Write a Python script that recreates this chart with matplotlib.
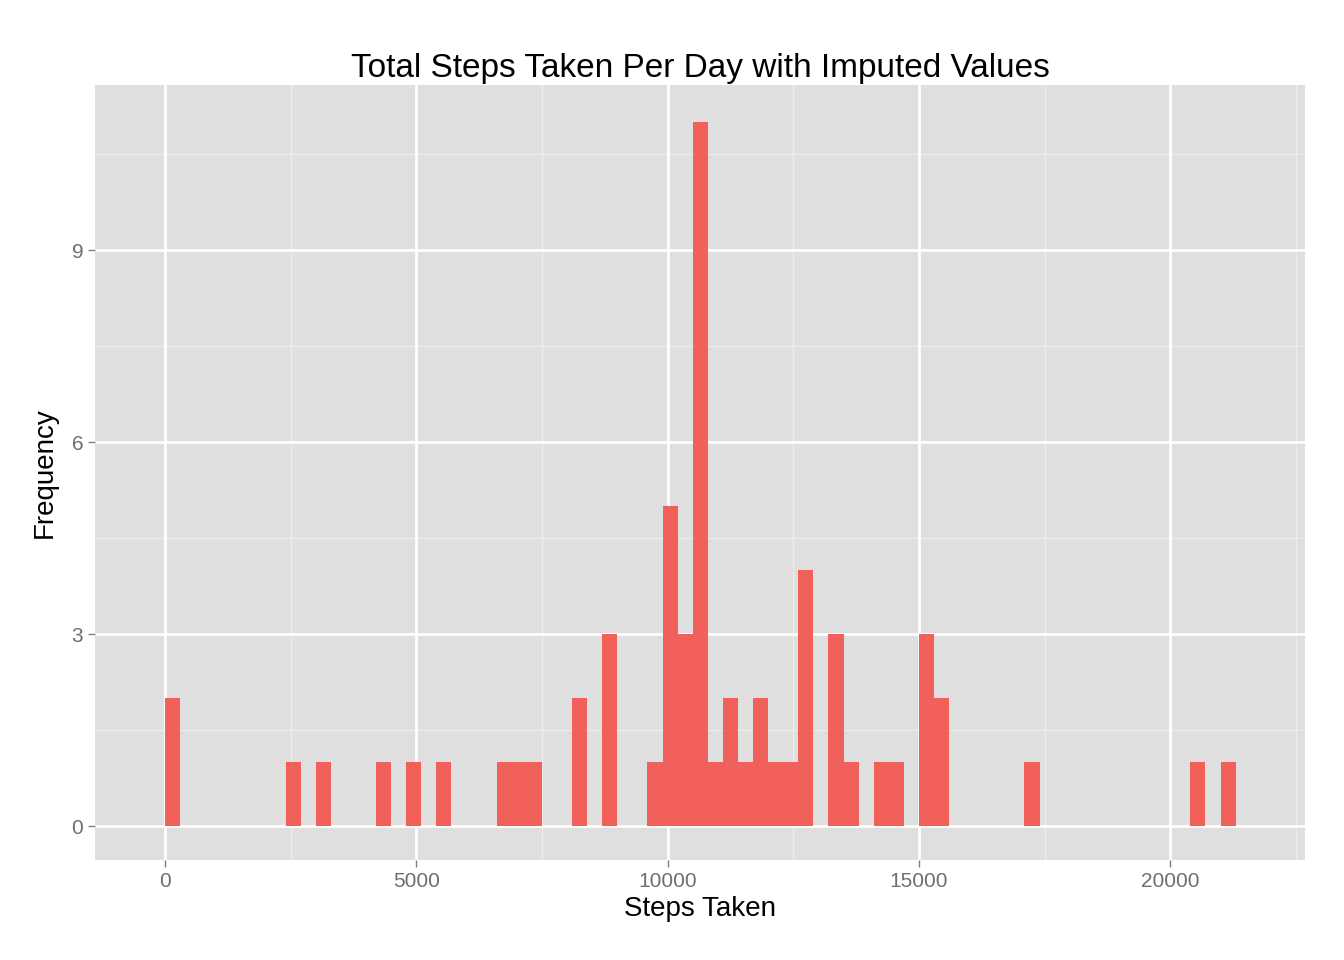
import numpy as np
import matplotlib
matplotlib.use('Agg')
from matplotlib import pyplot as plt

plt.rcParams['font.family'] = ['Liberation Sans', 'DejaVu Sans']

binwidth = 300
bin_index = [0, 8, 10, 14, 16, 18, 22, 23, 24, 27, 29, 32, 33, 34, 35, 36, 37, 38, 39, 40, 41, 42,
             44, 45, 47, 48, 50, 51, 57, 68, 70]
counts = [2, 1, 1, 1, 1, 1, 1, 1, 1, 2, 3, 1, 5, 3, 11, 1, 2, 1, 2, 1, 1, 4,
          3, 1, 1, 1, 3, 2, 1, 1, 1]
x_ticks = [0, 5000, 10000, 15000, 20000]
y_ticks = [0, 3, 6, 9]

left = np.array(bin_index) * binwidth

fig = plt.figure(figsize=(13.44, 9.6), dpi=100)
ax = fig.add_axes([95/1344, 100/960, 1210/1344, 775/960])
ax.set_facecolor('#dfdfdf')
for s in ax.spines.values():
    s.set_visible(False)

ax.set_xlim(-1390, 22680)
ax.set_ylim(-0.53, 11.58)
for v in np.arange(2500, 22600, 5000):
    ax.axvline(v, color='#ececec', lw=1, zorder=0)
for v in np.arange(1.5, 11.6, 3):
    ax.axhline(v, color='#ececec', lw=1, zorder=0)
for v in x_ticks:
    ax.axvline(v, color='white', lw=2, zorder=0)
for v in y_ticks:
    ax.axhline(v, color='white', lw=2, zorder=0)

ax.bar(left, counts, width=binwidth, align='edge', color='#f2605b', zorder=2)

ax.set_xticks(x_ticks)
ax.set_yticks(y_ticks)
ax.tick_params(colors='#7f7f7f', labelsize=15, length=5, width=1)
for lab in ax.get_xticklabels() + ax.get_yticklabels():
    lab.set_color('#6e6e6e')
ax.set_xlabel('Steps Taken', fontsize=20, labelpad=4)
ax.set_ylabel('Frequency', fontsize=20, labelpad=10)
ax.set_title('Total Steps Taken Per Day with Imputed Values', fontsize=24, pad=6)

fig.savefig('out.png', dpi=100)
